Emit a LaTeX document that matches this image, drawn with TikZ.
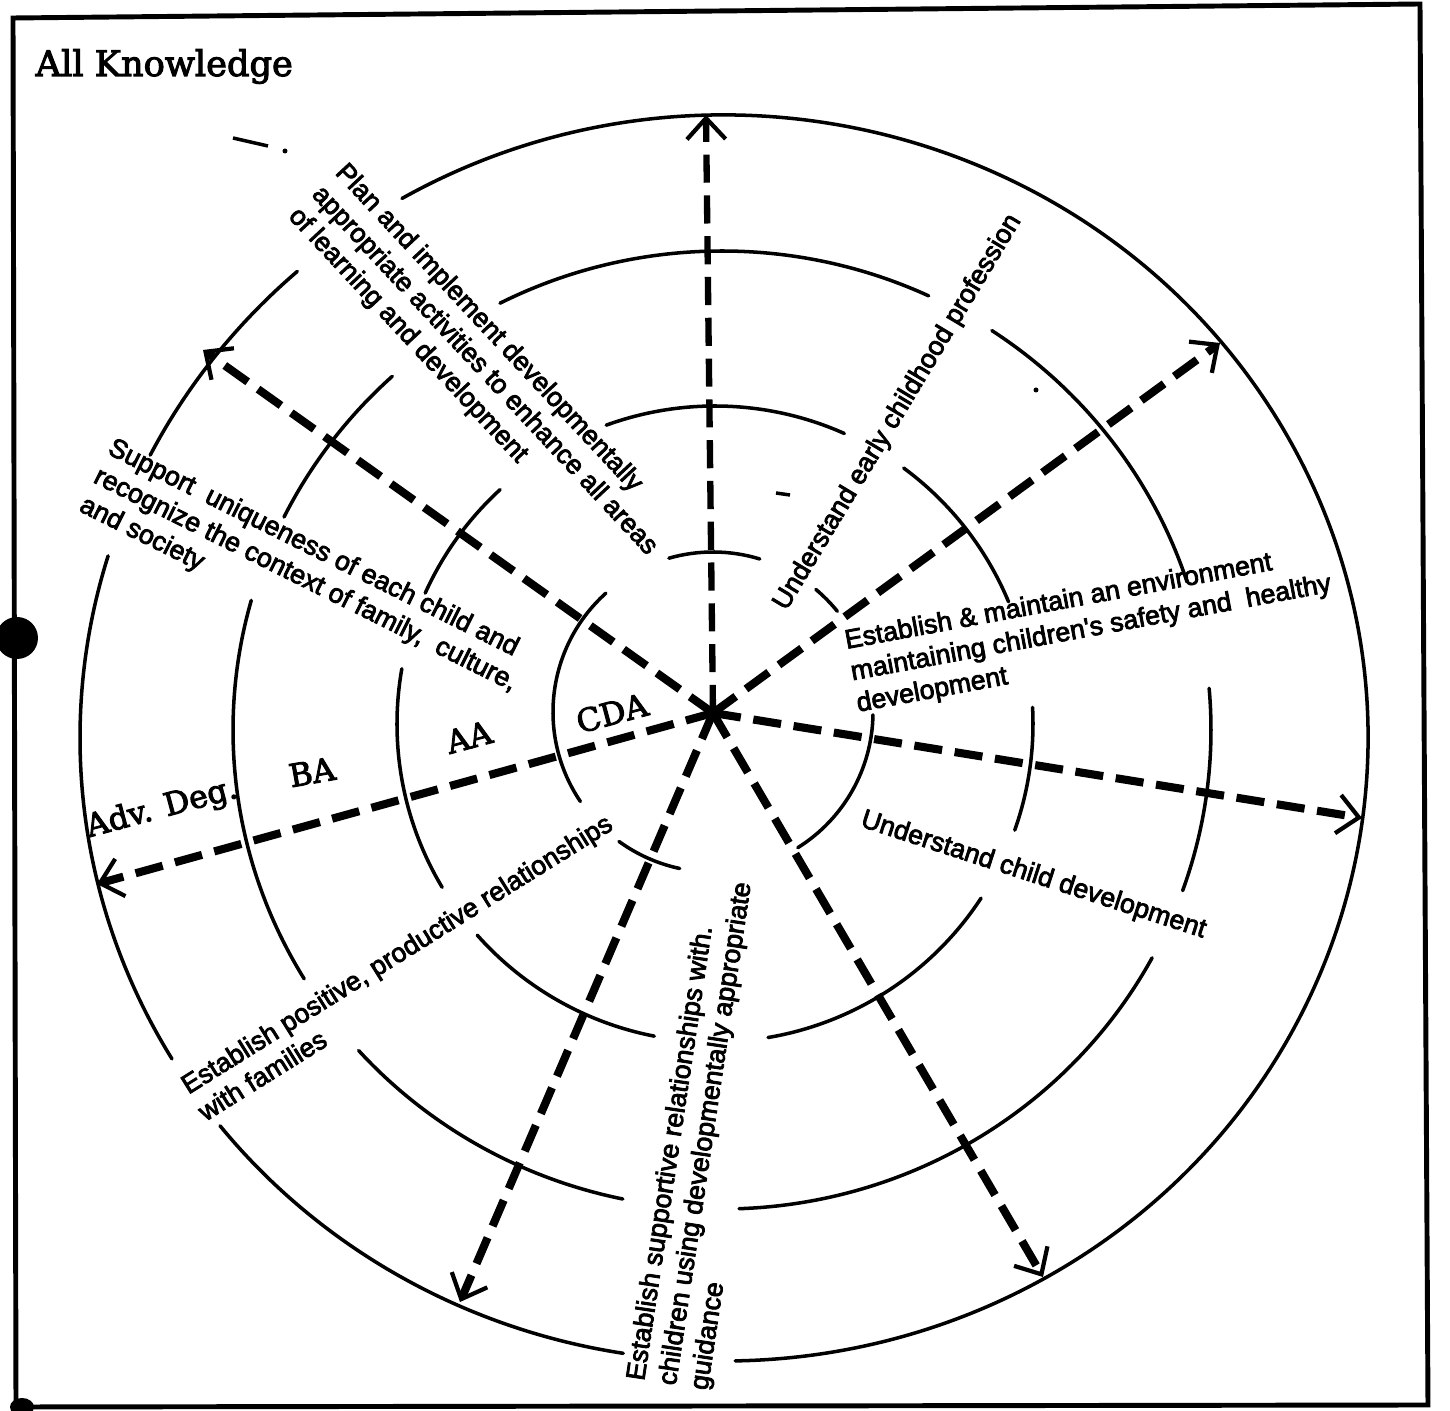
\documentclass[tikz,border=0pt]{standalone}
\usepackage{fontspec}
\setmainfont{Liberation Sans}
\newfontfamily\lblfont{Liberation Sans}[FakeBold=3]
\newfontfamily\serifdv{DejaVu Serif}[FakeBold=3]
\usetikzlibrary{arrows.meta,calc}
\tikzset{
  ring/.style={line width=1pt, line cap=round},
  spoke/.style={line width=2.3pt, dash pattern=on 8pt off 3.6pt,
    -{Straight Barb[length=6pt,width=11pt,line width=1.2pt]}},
  lbl/.style={font=\lblfont\fontsize{7.6}{9}\selectfont, inner sep=0pt, anchor=base west},
  deg/.style={font=\serifdv\fontsize{9}{11}\selectfont, inner sep=0pt},
  frameline/.style={line width=1.4pt},
}
\begin{document}
\begin{tikzpicture}[x=0.01cm,y=0.01cm]
\useasboundingbox (0,0) rectangle (1450,1411);
% frame
\draw[frameline] (13,1393) -- (1420,1407) -- (1428,6) -- (16,4) -- cycle;
\fill (17,773) circle (21);
\fill (22,4) ellipse (12 and 9);
% title
\node[font=\serifdv\fontsize{10}{12}\selectfont, inner sep=0pt, anchor=base west] (title) at (35,1335) {All Knowledge};
% ring 1 (CDA)
\foreach \a/\b in {106/73, 50/39, -1/-58, 258/234, 214/132}
  \draw[ring] ([shift={(713,699)}]\a:160) arc[start angle=\a, end angle=\b, radius=160];
% ring 2 (AA)
\foreach \a/\b in {110/66, 53.6/22.6, 3/-19.5, -33.2/-80.4, 259/221.6, 210.9/170, 155.7/132.5}
  \draw[ring] ([shift={(715,687)}]\a:318) arc[start angle=\a, end angle=\b, radius=318];
% ring 3 (BA)
\foreach \a/\b in {117/65, 56.5/18, 5/-19.6, -28.4/-88, 258.3/222, 211.3/164.3, 153.6/132.4}
  \draw[ring] ([shift={(722,681)}]\a:489 and 479) arc[start angle=\a, end angle=\b, x radius=489, y radius=479];
% ring 4 (Adv. Deg.)
\foreach \a/\b in {120/-89, 261/218.5, 211/163, 153/131.5}
  \draw[ring] ([shift={(724,673)}]\a:644 and 623) arc[start angle=\a, end angle=\b, x radius=644, y radius=623];
% stray marks
\draw[line width=1pt] (233,1273) -- (268,1265);
\fill (285,1260) circle (2.5);
\draw[line width=1pt] (776,918) -- (790,916);
\fill (1036,1021) circle (2.5);
% spokes
\coordinate (hub) at (713,698);
\coordinate (tU) at (706,1296);
\coordinate (tUR) at (1220,1068);
\coordinate (tR) at (1362,593);
\coordinate (tLR) at (1043,134);
\coordinate (tLL) at (460,109);
\coordinate (tL) at (97,527);
\coordinate (tUL) at (203,1061);
\draw[spoke, line width=1.8pt] (hub) -- (tU);
\foreach \t in {tUR,tR,tLR,tLL,tL,tUL}
  \draw[spoke] (hub) -- (\t);
% degree labels
\node[deg, rotate=15] (cda) at (612,698) {CDA};
\node[deg, rotate=15] (aa) at (469,674) {AA};
\node[deg, rotate=10] (ba) at (312,639) {BA};
\node[deg, rotate=15] (adv) at (162,602) {Adv. Deg.};
% competency labels
\begin{scope}[shift={(334,1238)}, rotate=-47, transform shape]
  \node[lbl] (plan1) at (0,0) {Plan and implement developmentally};
  \node[lbl] (plan2) at (0,-32) {appropriate activities to enhance all areas};
  \node[lbl] (plan3) at (0,-64) {of learning and development};
\end{scope}
\begin{scope}[shift={(786,799)}, rotate=59, transform shape]
  \node[lbl] (prof) at (0,0) {Understand early childhood profession};
\end{scope}
\begin{scope}[shift={(846,762)}, rotate=10.5, transform shape]
  \node[lbl] (env1) at (0,0) {Establish \& maintain an environment};
  \node[lbl] (env2) at (0,-32) {maintaining children's safety and \ healthy};
  \node[lbl] (env3) at (0,-64) {development};
\end{scope}
\begin{scope}[shift={(859,585)}, rotate=-18, transform shape]
  \node[lbl] (child) at (0,0) {Understand child development};
\end{scope}
\begin{scope}[shift={(644,29)}, rotate=81.5, transform shape]
  \node[lbl] (guid1) at (0,0) {Establish supportive relationships with.};
  \node[lbl] (guid2) at (0,-32) {children using developmentally appropriate};
  \node[lbl] (guid3) at (0,-64) {guidance};
\end{scope}
\begin{scope}[shift={(188,316)}, rotate=32, transform shape]
  \node[lbl] (fam1) at (0,0) {Establish positive, productive relationships};
  \node[lbl] (fam2) at (0,-32) {with families};
\end{scope}
\begin{scope}[shift={(106,958)}, rotate=-26.5, transform shape]
  \node[lbl] (sup1) at (0,0) {Support \ uniqueness of each child and};
  \node[lbl] (sup2) at (0,-32) {recognize the context of family, \ culture,};
  \node[lbl] (sup3) at (0,-64) {and society};
\end{scope}
\end{tikzpicture}
\end{document}
